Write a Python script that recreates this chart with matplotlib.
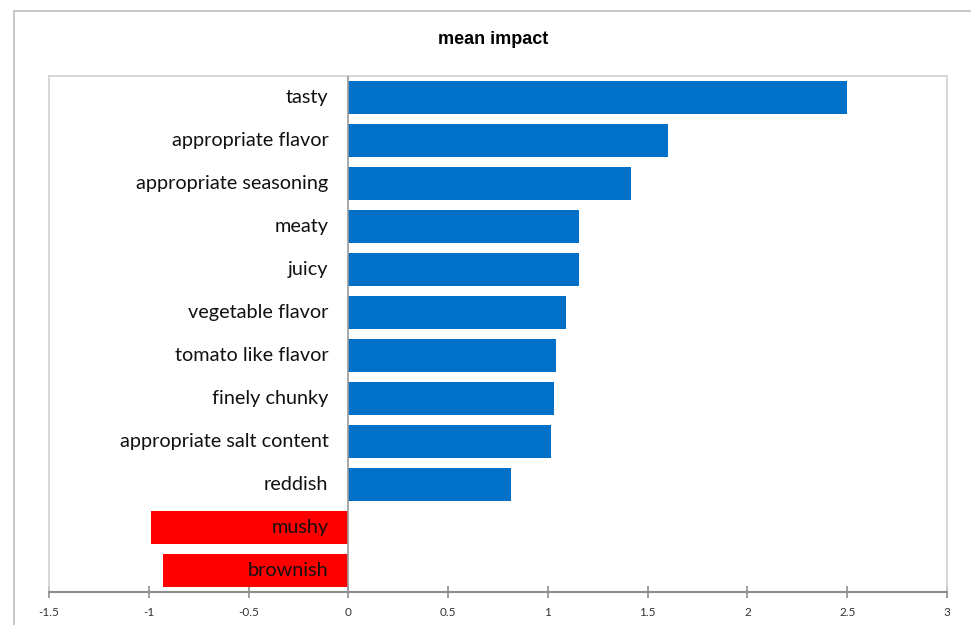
import matplotlib
matplotlib.use("Agg")
import matplotlib.pyplot as plt
from matplotlib.lines import Line2D

attributes = [
    "tasty", "appropriate flavor", "appropriate seasoning", "meaty", "juicy",
    "vegetable flavor", "tomato like flavor", "finely chunky",
    "appropriate salt content", "reddish", "mushy", "brownish",
]
impact = [2.50, 1.60, 1.415, 1.155, 1.155, 1.09, 1.04, 1.03, 1.015, 0.815, -0.99, -0.93]
xticks = [-1.5, -1, -0.5, 0, 0.5, 1, 1.5, 2, 2.5, 3]
xtick_labels = ["-1.5", "-1", "-0.5", "0", "0.5", "1", "1.5", "2", "2.5", "3"]

W, H = 971, 625
fig = plt.figure(figsize=(W / 100, H / 100), dpi=100)

# outer chart frame (top and left edges visible)
fig.add_artist(Line2D([14 / W, 1], [1 - 11 / H, 1 - 11 / H], color="#bdbdbd", lw=1.2))
fig.add_artist(Line2D([14 / W, 14 / W], [0, 1 - 11 / H], color="#bdbdbd", lw=1.2))

left, right, top, bottom = 49, 947, 76, 592
ax = fig.add_axes([left / W, 1 - bottom / H, (right - left) / W, (bottom - top) / H])

colors = ["#0070c8" if v > 0 else "#ff0000" for v in impact]
ypos = list(range(len(attributes)))
ax.barh(ypos, impact, height=0.75, color=colors, edgecolor="none", zorder=2)

ax.set_xlim(-1.5, 3)
ax.set_ylim(len(attributes) - 0.5, -0.5)

# category labels sit just left of the zero line
for y, name in zip(ypos, attributes):
    ax.text(-0.1, y, name, ha="right", va="center", fontsize=14.3,
            family=["Lato", "DejaVu Sans"], color="#111111", zorder=3)

ax.axvline(0, color="#9a9a9a", lw=1.2, zorder=3)

for s in ["top", "left", "right"]:
    ax.spines[s].set_color("#d0d0d0")
    ax.spines[s].set_linewidth(1.2)
ax.spines["bottom"].set_color("#8c8c8c")
ax.spines["bottom"].set_linewidth(1.5)

ax.set_yticks([])
ax.set_xticks(xticks)
ax.set_xticklabels(xtick_labels, fontsize=8.5, family=["Lato", "DejaVu Sans"], color="#333333")
ax.tick_params(axis="x", direction="inout", length=8, width=1.2, color="#8c8c8c", pad=7)

fig.text(493 / W, 1 - 40 / H, "mean impact", ha="center", va="center", fontsize=13,
         fontweight="bold", fontstretch="condensed",
         family=["Liberation Sans Narrow", "Liberation Sans", "DejaVu Sans"])

fig.savefig("out.png", dpi=100)
